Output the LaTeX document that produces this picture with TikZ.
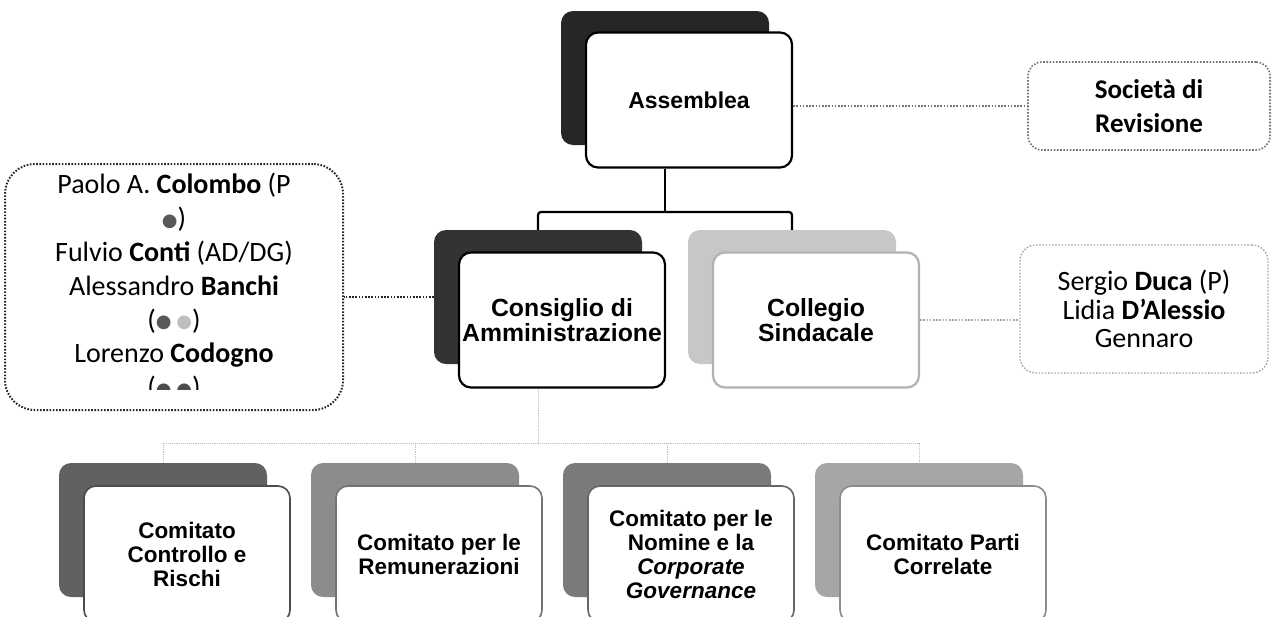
\documentclass[tikz,border=0pt]{standalone}
\usepackage{fontspec}
\setmainfont{Carlito}
\newfontfamily\arialfont{Liberation Sans}
\newfontfamily\symfont{DejaVu Sans}
\newcommand{\pdot}[1]{\raisebox{1.5pt}{\symfont\fontsize{18}{18}\selectfont\textcolor{#1}{●}}}

\begin{document}
\begin{tikzpicture}[x=1pt,y=-1pt,
  backbox/.style={rounded corners=12pt,minimum width=208pt,minimum height=134pt,inner sep=0pt},
  frontbox/.style={draw,fill=white,rounded corners=12pt,line width=2.2pt,minimum width=206pt,minimum height=135pt,align=center,inner sep=2pt,font=\arialfont\bfseries\fontsize{23}{24}\selectfont},
  bigbox/.style={frontbox,font=\arialfont\bfseries\fontsize{24.8}{25}\selectfont},
  combox/.style={frontbox,line width=1.6pt,minimum width=206pt,minimum height=136pt,font=\arialfont\bfseries\fontsize{22.5}{24}\selectfont},
  dotbox/.style={rounded corners=22pt,dash pattern=on 1.6pt off 1.6pt,line width=2pt,align=center,inner sep=0pt},
  tree/.style={line width=2.2pt,rounded corners=3pt},
  faint/.style={black!25,densely dotted,line width=0.9pt}]

\useasboundingbox (0,0) rectangle (1271,616);

\node (asmB) at (665,78)[backbox,fill=black!85]{};
\node (asmF) at ([shift={(24,22)}]asmB)[frontbox]{Assemblea};

\node (cdaB) at (538,297)[backbox,fill=black!80]{};
\node (cdaF) at ([shift={(24,23)}]cdaB)[bigbox]{Consiglio di\\Amministrazione};
\node (csB) at (792,297)[backbox,fill=black!22]{};
\node (csF) at ([shift={(24,23)}]csB)[bigbox,draw=black!30]{Collegio\\Sindacale};

\coordinate (fork) at (665,212);
\draw[tree] (asmB |- asmF.south) -- (fork);
\draw[tree] (cdaB.north) |- (fork) -| (csB.north);

\node (c1B) at (163,530)[backbox,fill=black!62]{};
\node (c1F) at ([shift={(24,24)}]c1B)[combox,draw=black!70]{Comitato\\Controllo e\\Rischi};
\node (c2B) at (415,530)[backbox,fill=black!45]{};
\node (c2F) at ([shift={(24,24)}]c2B)[combox,draw=black!55]{Comitato per le\\Remunerazioni};
\node (c3B) at (667,530)[backbox,fill=black!52]{};
\node (c3F) at ([shift={(24,24)}]c3B)[combox,draw=black!60]{Comitato per le\\Nomine e la\\\textit{Corporate}\\\textit{Governance}};
\node (c4B) at (919,530)[backbox,fill=black!35]{};
\node (c4F) at ([shift={(24,24)}]c4B)[combox,draw=black!45]{Comitato Parti\\Correlate};

\coordinate (split) at (538,443);
\draw[faint] (cdaB |- cdaF.south) -- (split);
\draw[faint] (c1B.north) |- (split) -| (c4B.north);
\draw[faint] (c2B.north) -- (c2B |- split);
\draw[faint] (c3B.north) -- (c3B |- split);

\begin{scope}
\clip (5,160) rectangle (343,389);
\node (boardtxt) at (174,287)[align=center,font=\fontsize{28}{33.8}\selectfont]{Paolo A. \textbf{Colombo} (P\\\pdot{black!65})\\Fulvio \textbf{Conti} (AD/DG)\\Alessandro \textbf{Banchi}\\(\pdot{black!65}\,\pdot{black!25})\\Lorenzo \textbf{Codogno}\\(\pdot{black!70}\,\pdot{black!70})};
\end{scope}
\node (board) at (174,287)[dotbox,draw=black!85,rounded corners=30pt,minimum width=338pt,minimum height=246pt]{};

\node (soc) at (1149,106)[dotbox,draw=black!55,line width=1.6pt,rounded corners=14pt,minimum width=242pt,minimum height=88pt,font=\bfseries\fontsize{27}{34}\selectfont]{Società di\\Revisione};
\node (sind) at (1144,309)[dotbox,draw=black!35,line width=1.4pt,rounded corners=16pt,minimum width=248pt,minimum height=128pt,font=\fontsize{28}{28.5}\selectfont]{Sergio \textbf{Duca} (P)\\Lidia \textbf{D’Alessio}\\Gennaro};

\draw[dotbox,draw=black!55,line width=1.4pt] (soc.west -| asmF.east) -- (soc.west);
\draw[dotbox,draw=black!85] (cdaB.west) -- (cdaB.west -| board.east);
\draw[dotbox,draw=black!35,line width=1.4pt] (csF.east) -- (csF.east -| sind.west);
\end{tikzpicture}
\end{document}
